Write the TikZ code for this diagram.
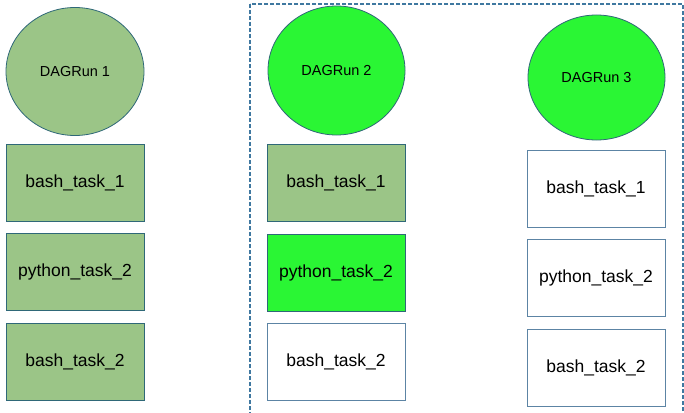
\documentclass[tikz,border=0pt]{standalone}
\usepackage{fontspec}
\setmainfont{Liberation Sans}
\usepackage{tikz}
\usetikzlibrary{shapes.geometric}

\definecolor{sage}{HTML}{9BC587}
\definecolor{lime}{HTML}{2AF634}
\definecolor{rim}{HTML}{2F6878}
\definecolor{pale}{HTML}{5C84A4}
\definecolor{fence}{HTML}{3F78A0}

\tikzset{
  run/.style={ellipse, draw=rim, line width=0.8pt, inner sep=0pt, font=\fontsize{14.5}{16}\selectfont},
  task/.style={rectangle, draw=rim, line width=0.8pt, minimum width=138pt, minimum height=77pt, inner sep=0pt, font=\fontsize{17.5}{20}\selectfont},
  idle/.style={task, draw=pale, fill=white}
}

\begin{document}
\begin{tikzpicture}[x=1pt, y=-1pt]
    \useasboundingbox[fill=white] (0,0) rectangle (684,412);
    \draw[fence, line width=1.5pt, dash pattern=on 4pt off 2pt] (250,4) rectangle (683,420);
    % first run
    \node[run, fill=sage, minimum width=138pt, minimum height=128pt] (run1) at (75,71.5) {DAGRun 1};
    \node[task, fill=sage] (bash1a) at (75,182.5) {bash\_task\_1};
    \node[task, fill=sage] (py1) at (75,272) {python\_task\_2};
    \node[task, fill=sage] (bash1b) at (75,361.5) {bash\_task\_2};
    % second run
    \node[run, fill=lime, minimum width=137pt, minimum height=129pt] (run2) at (336.5,70.5) {DAGRun 2};
    \node[task, fill=sage] (bash2a) at (336,182.5) {bash\_task\_1};
    \node[task, fill=lime] (py2) at (336,272.5) {python\_task\_2};
    \node[idle] (bash2b) at (336,361.5) {bash\_task\_2};
    % third run
    \node[run, fill=lime, minimum width=137pt, minimum height=125pt] (run3) at (596.5,77.5) {DAGRun 3};
    \node[idle] (bash3a) at (596,188.5) {bash\_task\_1};
    \node[idle] (py3) at (596,277.5) {python\_task\_2};
    \node[idle] (bash3b) at (596,367.5) {bash\_task\_2};
\end{tikzpicture}
\end{document}
